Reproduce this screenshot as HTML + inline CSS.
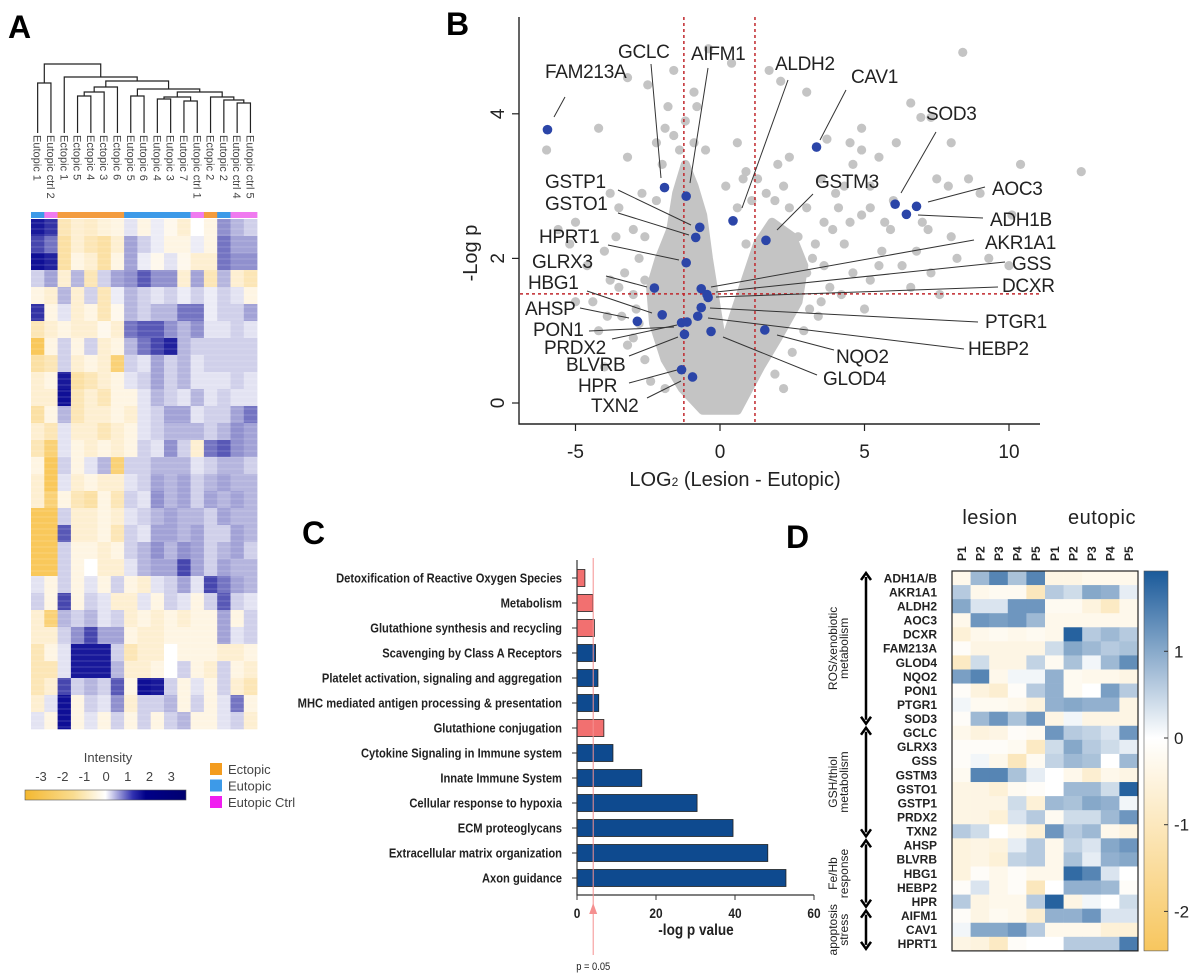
<!DOCTYPE html>
<html><head><meta charset="utf-8"><style>
body{margin:0;background:#fff;}
svg{display:block;font-family:"Liberation Sans",sans-serif;}
</style></head><body>
<svg id="fig" width="1200" height="974" viewBox="0 0 1200 974" xmlns="http://www.w3.org/2000/svg">
<rect width="1200" height="974" fill="#fff"/>
<text x="8" y="38" font-size="32" font-weight="bold">A</text>
<text x="446" y="35" font-size="32" font-weight="bold">B</text>
<text x="302" y="544" font-size="32" font-weight="bold">C</text>
<text x="786" y="548" font-size="32" font-weight="bold">D</text>
<g id="pa"></g>
<g id="pb"></g>
<g id="pc"></g>
<g id="pd"></g>
</svg>
<script>
const NS="http://www.w3.org/2000/svg";
function mk(parent,tag,attrs,txt){const e=document.createElementNS(NS,tag);for(const k in attrs)e.setAttribute(k,attrs[k]);if(txt!==undefined)e.textContent=txt;parent.appendChild(e);return e;}

/* ---------- Panel A data ---------- */
const aSamples=["Eutopic 1","Eutopic ctrl 2","Ectopic 1","Ectopic 5","Ectopic 4","Ectopic 3","Ectopic 6","Eutopic 5","Eutopic 6","Eutopic 4","Eutopic 3","Eutopic 7","Eutopic ctrl 1","Ectopic 2","Eutopic 2","Eutopic ctrl 4","Eutopic ctrl 5"];
const aGroups=["Eu","Ctrl","Ec","Ec","Ec","Ec","Ec","Eu","Eu","Eu","Eu","Eu","Ctrl","Ec","Eu","Ctrl","Ctrl"];
const aMatrix=[
[2.5,2.2,-0.8,-0.5,-0.6,-0.4,-0.3,0.3,-0.3,0.2,-0.2,-0.5,0,-0.3,1.2,0.8,0.5],
[2.0,1.5,-1,-0.5,-0.8,-1,-0.5,1,0.5,0.2,-0.3,-0.3,0.2,-0.3,1.5,1,1],
[2.6,2.4,-1,-0.3,-0.5,-1,-0.3,1,0.2,-0.2,0.3,-0.2,-0.5,-0.5,1.5,1.2,1.2],
[0.5,1,-0.5,0.8,-0.8,0.5,1,1.2,1.8,1.2,1.2,-0.5,1,-0.8,0.8,-0.5,-0.8],
[-0.3,-0.5,0.8,-0.5,0.5,-0.8,0.2,0.8,0.5,0.3,0.5,0.2,0.5,0.2,0.5,0.3,-0.3],
[2.2,-0.3,0.3,-0.5,-0.3,-0.8,-0.2,0.8,0.5,0.8,0.8,1.5,1.5,0.2,0.5,0.5,1],
[-0.8,-0.5,-0.3,-0.5,-0.5,-0.2,-0.5,1.5,1.8,1.8,1.2,0.8,1.2,0.3,0.3,0.5,0.3],
[-1.8,-0.3,0.5,-0.3,0.5,-0.5,-0.3,0.8,1.5,2,2.4,0.8,0.5,0.5,0.5,0.5,0.5],
[-1,-0.8,0.5,-0.5,-0.3,-0.5,-1.5,0.5,0.3,1,0.5,0.8,0.3,0.5,0.5,0.5,0.5],
[-0.5,-0.3,2.5,-1,-0.8,-0.5,-0.3,0.3,0.5,1,0.5,0.8,0.3,0.3,0.3,0.5,0.3],
[-0.5,-0.5,2.6,-0.8,-0.5,-0.8,-0.3,-0.3,0.3,0.8,0.5,0.3,0.8,0.3,0.5,0.3,0.3],
[-1,-0.3,0.8,-0.8,-0.5,-0.5,-0.3,-0.5,0.3,0.5,1,1,0.3,0.5,0.5,1,1.5],
[-0.5,-0.8,0.3,-0.5,-0.5,-0.8,-0.5,-0.3,0.3,0.5,0.8,0.8,0.8,0.5,0.8,1.2,1],
[-0.8,-1.5,0.3,-0.3,-0.5,-0.3,-0.5,-0.3,0.5,0.3,1.2,0.5,-0.5,1.5,1.8,1.2,1],
[-0.3,-1.8,0.5,-0.3,0.3,0.8,-1.5,0.5,0.5,0.8,0.8,0.8,0.3,0.5,0.8,0.8,0.5],
[-0.5,-1.8,0.3,-0.5,-0.3,-0.5,-0.5,0.3,0.5,1,0.8,1,0.5,0.8,1,0.8,0.8],
[-0.5,-1.5,-0.3,-0.8,-1,-0.3,-0.8,0.5,0.3,1.2,0.8,1,0.5,1,0.8,1,0.8],
[-1.8,-1.8,0.5,-0.5,-0.5,-0.3,-0.5,0.3,0.5,0.8,1,0.8,0.8,0.5,1,0.8,0.8],
[-1.8,-1.8,1.8,-0.5,-0.5,-0.3,-0.8,0.5,0.3,1,1,0.8,1,0.5,0.5,1,0.8],
[-1.8,-1.8,0.5,-0.3,-0.3,-0.5,-0.3,0.5,0.8,1.2,0.8,1.2,1,0.5,0.8,1,0.5],
[-1.8,-1.8,0.5,-0.3,0,-0.5,-0.5,0.3,0.8,1,1,2,1,0.5,1,0.8,0.8],
[0.3,-0.3,0.5,-0.3,0.3,-0.3,0.5,-0.3,-0.5,0.3,0.5,1,0.3,2,1.5,1,0.8],
[0.5,-0.3,2,-0.3,0.5,0.3,-0.5,-0.5,0.3,-0.3,0.5,0.3,-0.3,0.5,1.8,0.5,0.3],
[-0.5,-1.5,0.8,0.5,0.8,0.3,0.5,-0.5,-0.3,-0.5,-0.3,-0.5,-0.3,-0.3,1,-0.3,0.5],
[-0.5,-0.5,0.5,1.2,2,1,1,-0.3,-0.5,-0.5,-0.3,-0.3,-0.3,-0.3,1,0.3,0.5],
[-0.8,-0.3,0.3,2.5,2.5,2.5,0.5,-0.8,-0.5,-0.5,0,-0.3,-0.3,-0.3,-0.5,-0.5,-0.3],
[-0.8,-0.8,0.3,2.5,2.5,2.5,0.8,-0.5,-0.5,-0.3,0,0.5,-0.3,-0.5,0.5,-0.3,-0.5],
[-0.8,-0.5,2,0.5,0.8,0.5,1.8,-0.3,2.8,2.5,0.5,-0.3,0.3,-0.3,0.5,-0.5,-0.8],
[-0.5,0.3,2.8,-0.3,0.5,0.3,1.2,-0.5,0.5,0.5,0.8,-0.3,0.5,-0.3,0.3,1.5,-0.3],
[0.3,-0.3,2.8,-0.3,0.3,-0.3,0.5,-0.3,0.5,-0.3,0.5,0.8,-0.3,-0.3,0.3,0.5,-0.5]];
const aLegendTicks=["-3","-2","-1","0","1","2","3"];
const aLegendNames=["Ectopic","Eutopic","Eutopic Ctrl"];

/* ---------- Panel B data ---------- */
const bHighlightNames=["FAM213A","GCLC","AIFM1","ALDH2","CAV1","SOD3","AOC3","ADH1B","GSTP1","GSTO1","GSTM3","HPRT1","GLRX3","AKR1A1","GSS","DCXR","PTGR1","HBG1","HEBP2","AHSP","PON1","PON1b","PRDX2","GLOD4","NQO2","BLVRB","TXN2"];
const bHighlightX=[-5.97,-1.92,-1.17,0.45,3.34,6.06,6.80,6.45,-0.70,-0.84,1.59,-1.17,-2.27,-0.65,-0.41,-0.45,-0.65,-2.0,-0.77,-2.86,-1.33,-1.14,-1.23,-0.31,1.55,-1.33,-0.95];
const bHighlightY=[3.78,2.98,2.86,2.52,3.54,2.75,2.72,2.61,2.43,2.29,2.25,1.94,1.59,1.58,1.46,1.50,1.32,1.22,1.20,1.13,1.11,1.12,0.95,0.99,1.01,0.46,0.36];
const bGrayX=[8.4,2.1,6.6,6.95,7.3,4.9,3.7,4.5,4.9,6.1,8.0,2.0,4.6,5.5,4.3,5.2,7.5,8.6,10.4,12.5,5.2,4.1,3.0,2.4,3.6,4.9,5.7,7.0,8.0,2.7,3.3,4.3,5.6,7.2,8.2,10.1,9.3,3.6,4.6,5.2,6.3,7.3,10.0,4.2,3.0,2.7,2.4,6.8,3.1,4.0,6.0,9.0,3.0,1.7,1.3,2.4,7.9,5.9,3.5,-6.0,-4.2,-3.2,-2.5,-1.6,-1.8,-2.2,-3.2,-2.0,-1.6,-3.5,-5.0,-5.2,-4.0,-3.8,-4.4,-4.2,-3.0,-2.8,-5.0,-3.4,-3.0,-4.0,-0.4,0.6,0.4,-0.8,-2.7,-3.6,-5.6,-2.6,-2.9,-3.3,1.9,3.5,2.2,-1.4,-0.9,0.8,
-3.5,-3.0,-2.8,-3.2,-2.6,-2.2,-2.6,-3.8,-1.9,-1.2,-0.9,-0.5,0.2,0.9,1.1,1.6,2.2,3.2,3.8,2.9,3.4,2.5,4.5,5.5,6.6,7.6,5.0,3.9,0.6,0.9,-2.4,-1.9,1.9,2.2,-4.6,-3.9];
const bGrayY=[4.85,4.45,4.15,3.95,3.95,3.8,3.65,3.6,3.5,3.6,3.6,3.3,3.3,3.4,3.0,3.0,3.1,3.1,3.3,3.2,2.7,2.7,2.7,2.7,2.5,2.6,2.5,2.5,2.3,2.3,2.2,2.2,2.1,2.4,2.0,2.6,2.0,1.9,1.8,1.7,1.9,1.8,1.9,1.5,1.8,2.0,1.9,2.1,1.3,2.9,2.8,2.9,4.3,4.6,3.1,3.4,3.0,2.4,3.1,3.5,3.8,4.5,4.4,4.6,4.1,3.6,3.4,3.3,3.7,2.7,2.5,2.2,2.1,1.7,1.4,1.0,2.4,2.0,1.4,1.2,0.9,0.5,4.9,3.6,4.7,4.1,2.9,2.3,2.4,1.7,1.3,1.8,2.8,1.4,1.5,3.5,3.6,3.1,
1.6,1.5,1.1,0.8,0.6,2.8,2.3,2.9,3.8,3.9,4.3,3.5,3.0,3.2,2.8,2.9,3.0,2.0,1.6,1.0,1.2,0.7,2.5,1.9,1.6,1.5,1.3,2.4,2.7,2.2,0.3,0.2,0.4,0.2,1.9,1.2];
const bCloudX=[0.6,-0.6,-1.3,-1.9,-2.3,-2.4,-2.1,-1.7,-1.5,-1.2,-0.9,-0.6,-0.4,-0.2,0.0,0.05,0.25,0.3,0.8,1.3,1.8,2.5,2.9,2.7,2.0,1.4];
const bCloudY=[-0.1,-0.1,0.2,0.6,1.1,1.6,2.0,2.4,2.9,3.3,3.0,2.6,2.0,1.5,1.0,0.4,0.4,1.0,1.6,2.2,2.5,2.3,1.9,1.4,0.9,0.5];
const bXTicks=[-5,0,5,10];
const bYTicks=[0,2,4];
const bThreshX=[-1.25,1.21];
const bThreshY=1.51;

/* ---------- Panel C data ---------- */
const cPathways=["Detoxification of Reactive Oxygen Species","Metabolism","Glutathione synthesis and recycling","Scavenging by Class A Receptors","Platelet activation, signaling and aggregation","MHC mediated antigen processing & presentation","Glutathione conjugation","Cytokine Signaling in Immune system","Innate Immune System","Cellular response to hypoxia","ECM proteoglycans","Extracellular matrix organization","Axon guidance"];
const cValues=[2.0,4.0,4.4,4.7,5.3,5.5,6.8,9.1,16.4,30.4,39.5,48.3,52.9];
const cHighlight=[1,1,1,0,0,0,1,0,0,0,0,0,0];
const cTicks=[0,20,40,60];
const cThreshold=4.1;

/* ---------- Panel D data ---------- */
const dGenes=["ADH1A/B","AKR1A1","ALDH2","AOC3","DCXR","FAM213A","GLOD4","NQO2","PON1","PTGR1","SOD3","GCLC","GLRX3","GSS","GSTM3","GSTO1","GSTP1","PRDX2","TXN2","AHSP","BLVRB","HBG1","HEBP2","HPR","AIFM1","CAV1","HPRT1"];
const dCols=["P1","P2","P3","P4","P5","P1","P2","P3","P4","P5"];
const dMatrix=[
[-0.3,0.8,1.4,0.7,1.4,-0.4,-0.4,-0.3,-0.3,-0.3],
[0.6,-0.3,-0.2,-0.2,-1.0,0.6,0.4,1.0,0.9,0.2],
[1.0,0.3,0.3,1.2,1.2,-0.2,-0.2,-0.5,-0.9,-0.3],
[-0.3,1.2,1.1,1.2,0.8,-0.3,-0.3,-0.3,-0.3,-0.3],
[-0.6,-0.3,-0.2,-0.3,-0.2,-0.3,1.8,0.6,0.8,0.6],
[-0.1,-0.4,-0.4,-0.4,-0.4,0.4,1.0,0.8,0.6,0.7],
[-0.9,0.4,-0.4,-0.4,0.5,-0.2,0.7,0.1,0.8,1.3],
[1.1,1.4,-0.3,0.1,0.1,0.9,-0.2,-0.3,-0.3,-0.4],
[-0.1,-0.5,-0.7,-0.1,0.6,0.9,-0.2,0.0,1.1,0.6],
[0.1,-0.2,-0.2,-0.3,-0.5,0.9,1.0,0.9,0.9,-0.4],
[-0.1,0.8,1.2,0.7,1.2,-0.4,0.1,-0.4,-0.4,-0.4],
[-0.3,-0.5,-0.4,-0.1,-0.2,1.2,0.6,0.5,0.3,1.2],
[-0.1,-0.1,-0.1,-0.2,-0.9,0.4,1.0,0.6,0.4,0.2],
[-0.1,0.1,-0.3,-1.0,-0.2,0.5,0.8,0.7,0.0,0.8],
[-0.2,1.4,1.4,0.7,0.2,0.0,-0.3,-0.7,-0.3,-0.4],
[-0.4,-0.4,-0.6,-0.2,-0.1,0.0,0.8,0.8,0.4,1.8],
[-0.4,-0.4,-0.4,0.4,-0.6,0.8,0.7,1.0,0.9,0.1],
[-0.4,-0.4,-0.6,0.3,0.6,-0.2,0.4,0.4,0.8,1.2],
[0.6,0.4,0.0,-0.3,-0.6,1.2,0.6,0.8,-0.3,-0.5],
[-0.5,-0.4,-0.5,0.2,0.6,-0.3,0.5,0.3,1.0,1.2],
[-0.5,-0.4,-0.6,0.5,0.6,-0.3,0.7,0.2,0.9,1.0],
[-0.5,-0.1,-0.3,-0.1,-0.3,-0.3,1.7,1.4,0.3,0.0],
[-0.1,0.3,-0.3,-0.1,-1.0,0.0,0.9,0.9,0.8,-0.1],
[0.6,-0.4,-0.3,-0.3,0.6,1.8,-0.4,0.1,0.0,0.4],
[-0.1,-0.4,-0.2,-0.3,-0.7,0.9,0.9,1.2,0.3,0.3],
[0.1,1.0,1.0,1.2,0.6,-0.3,-0.3,-0.3,-0.6,-0.6],
[-0.4,-0.5,-0.9,-0.1,0.0,0.0,0.6,0.6,0.6,1.5]];
const dGroupNames=[["ROS/xenobiotic","metabolism"],["GSH/thiol","metabolism"],["Fe/Hb","response"],["apoptosis","stress"]];
const dGroupStart=[0,11,19,24];
const dGroupEnd=[11,19,24,27];
const dCbTicks=[1,0,-1,-2];

/* ================= Panel A render ================= */
(function(){
const g=document.getElementById('pa');
const x0=31,cw=13.3,y0=219,rh=17;
function colA(v){let r,gg,b;if(v>=0){const t=Math.min(v/2.6,1);r=255+(15-255)*t;gg=255+(15-255)*t;b=255+(150-255)*t;}else{const t=Math.min(-v/2.2,1);r=255+(248-255)*t;gg=255+(188-255)*t;b=255+(55-255)*t;}return `rgb(${r|0},${gg|0},${b|0})`;}
const gc={Eu:"#3d9ae8",Ctrl:"#f07af0",Ec:"#f39c3f"};
aGroups.forEach((gr,i)=>{const r=mk(g,'rect',{x:x0+i*cw,y:212,width:cw+0.3,height:6,fill:gc[gr]});

});
aMatrix.forEach((row,ri)=>row.forEach((v,ci)=>{const r=mk(g,'rect',{x:x0+ci*cw,y:y0+ri*rh,width:cw+0.3,height:rh+0.3,fill:colA(v)});

}));
for(let y=y0+4;y<y0+rh*30;y+=6){const l=mk(g,'line',{x1:x0,x2:x0+17*cw,y1:y,y2:y,stroke:'#fff',"stroke-width":0.7,opacity:0.25});

}
aSamples.forEach((s,i)=>{const cx=x0+(i+0.5)*cw;const t=mk(g,'text',{x:0,y:0,transform:`translate(${cx-4},135) rotate(90)`,"font-size":11,fill:'#444'},s);

});
const L=i=>x0+(i+0.5)*cw;
const segs=[[L(0),L(1),83,133,133],[L(3),L(4),96,133,133],[(L(3)+L(4))/2,L(5),92,96,133],[((L(3)+L(4))/2+L(5))/2,L(6),87,92,133],
[L(7),L(8),96,133,133],[L(9),L(10),99,133,133],[L(11),L(12),101,133,133],[(L(9)+L(10))/2,(L(11)+L(12))/2,97,99,101],
[L(15),L(16),103,133,133],[L(14),(L(15)+L(16))/2,100,133,103],[L(13),(L(14)+(L(15)+L(16))/2)/2,97,133,100]];
const nA=((L(9)+L(10))/2+(L(11)+L(12))/2)/2, nB=(L(13)+(L(14)+(L(15)+L(16))/2)/2)/2;
segs.push([nA,nB,92,97,97]);const nC=(nA+nB)/2;
const nD=(L(7)+L(8))/2;segs.push([nD,nC,89,96,92]);const nE=(nD+nC)/2;
const nF=(((L(3)+L(4))/2+L(5))/2+L(6))/2;segs.push([nF,nE,81,87,89]);const nG=(nF+nE)/2;
segs.push([L(2),nG,77,133,81]);const nH=(L(2)+nG)/2;
segs.push([(L(0)+L(1))/2,nH,64,83,77]);
const dg=mk(g,'g',{stroke:'#222',"stroke-width":1.2,fill:'none'});
segs.forEach(s=>{const p=mk(dg,'path',{d:`M${s[0]},${s[3]}V${s[2]}H${s[1]}V${s[4]}`});

});
const it=mk(g,'text',{x:108,y:762,"font-size":13,fill:'#444',"text-anchor":"middle"},"Intensity");

const defs=mk(g,'defs',{});const lg=mk(defs,'linearGradient',{id:'ga'});
[["0","#f4b830"],["0.3","#f9dc90"],["0.5","#ffffff"],["0.67","#3030b0"],["0.75","#000088"],["1","#000070"]].forEach(s=>mk(lg,'stop',{offset:s[0],"stop-color":s[1]}));
const cb=mk(g,'rect',{x:25,y:790,width:161,height:10,fill:'url(#ga)',stroke:'#555',"stroke-width":0.6});

aLegendTicks.forEach((t,i)=>{const e=mk(g,'text',{x:41+i*21.7,y:781,"font-size":13,fill:'#444',"text-anchor":"middle"},t);
});
const lc=["#f39c1f","#3d9ae8","#f01ef0"];
aLegendNames.forEach((n,i)=>{const r=mk(g,'rect',{x:210,y:763+i*16.5,width:12,height:12,fill:lc[i]});

const t=mk(g,'text',{x:228,y:774+i*16.5,"font-size":13,fill:'#444'},n);
});
})();

/* ================= Panel B render ================= */
(function(){
const g=document.getElementById('pb');
const xs=v=>720+v*28.9, ys=v=>403-v*72.3;
const poly=bCloudX.map((x,i)=>xs(x)+','+ys(bCloudY[i])).join(' ');
const pl=mk(g,'polygon',{points:poly,fill:'#c4c4c4',stroke:'#c4c4c4',"stroke-width":9,"stroke-linejoin":"round"});

bGrayX.forEach((x,i)=>{const c=mk(g,'circle',{cx:xs(x),cy:ys(bGrayY[i]),r:4.6,fill:'#c4c4c4'});
});
bThreshX.forEach(v=>{const l=mk(g,'line',{x1:xs(v),x2:xs(v),y1:17,y2:424,stroke:'#c0282d',"stroke-width":1.5,"stroke-dasharray":"3,3"});
});
const hl=mk(g,'line',{x1:520,x2:1040,y1:ys(bThreshY),y2:ys(bThreshY),stroke:'#c0282d',"stroke-width":1.5,"stroke-dasharray":"3,3"});

const labs=[["FAM213A",545,78,565,97,554,117],["GCLC",618,58,651,64,661,178],["AIFM1",691,60,708,68,690,183],["ALDH2",775,70,788,80,742,208],["CAV1",851,83,846,90,820,140],["SOD3",926,120,936,132,901,193],["AOC3",992,195,985,187,928,202],["ADH1B",990,226,983,218,918,215],["AKR1A1",985,249,974,240,711,287],["GSS",1012,270,1005,262,716,292],["DCXR",1002,292,998,287,716,297],["PTGR1",985,328,978,322,710,308],["HEBP2",968,355,964,349,708,318],["NQO2",836,363,834,350,777,335],["GLOD4",823,385,817,375,723,337],["GSTM3",815,188,813,194,777,230],["GSTP1",545,188,618,190,691,225],["GSTO1",545,210,618,213,689,235],["HPRT1",539,243,608,245,679,260],["GLRX3",532,268,606,276,647,287],["HBG1",528,289,587,291,652,313],["AHSP",525,315,580,308,629,318],["PON1",533,336,589,331,674,327],["PRDX2",544,354,612,339,677,325],["BLVRB",566,371,629,356,678,337],["HPR",578,392,629,383,677,370],["TXN2",591,412,647,398,681,381]];
labs.forEach(l=>{const ln=mk(g,'line',{x1:l[3],y1:l[4],x2:l[5],y2:l[6],stroke:'#333',"stroke-width":1});

const t=mk(g,'text',{x:l[1],y:l[2],"font-size":19,fill:'#222',"letter-spacing":"-0.3"},l[0]);
});
bHighlightX.forEach((x,i)=>{const c=mk(g,'circle',{cx:xs(x),cy:ys(bHighlightY[i]),r:4.8,fill:'#2b45a8'});
});
const ax=mk(g,'path',{d:'M519,17V424H1040',stroke:'#222',"stroke-width":1.4,fill:'none'});

bXTicks.forEach(v=>{mk(g,'line',{x1:xs(v),x2:xs(v),y1:424,y2:431,stroke:'#222',"stroke-width":1.2});
const t=mk(g,'text',{x:xs(v),y:458,"font-size":19,"text-anchor":"middle",fill:'#222'},String(v));
});
bYTicks.forEach(v=>{mk(g,'line',{x1:512,x2:519,y1:ys(v),y2:ys(v),stroke:'#222',"stroke-width":1.2});
const t=mk(g,'text',{x:0,y:0,transform:`translate(504,${ys(v)}) rotate(-90)`,"font-size":19,"text-anchor":"middle",fill:'#222'},String(v));
});
const yt=mk(g,'text',{x:0,y:0,transform:'translate(477,253) rotate(-90)',"font-size":20,"text-anchor":"middle",fill:'#222'},"-Log p");

const xt=mk(g,'text',{x:735,y:486,"font-size":20,"text-anchor":"middle",fill:'#222'});

xt.innerHTML='LOG<tspan font-size="12">2</tspan> (Lesion - Eutopic)';
})();

/* ================= Panel C render ================= */
(function(){
const g=document.getElementById('pc');
const xs=v=>577+v*3.95, yc=i=>578+i*25;
cPathways.forEach((p,i)=>{const t=mk(g,'text',{x:0,y:0,transform:`translate(562,${yc(i)+4.5}) scale(0.86,1)`,"font-size":13,"font-weight":"bold","text-anchor":"end",fill:'#222'},p);

mk(g,'line',{x1:572,x2:577,y1:yc(i),y2:yc(i),stroke:'#333'});
const r=mk(g,'rect',{x:xs(0),y:yc(i)-8.5,width:xs(cValues[i])-xs(0),height:17,fill:cHighlight[i]?'#f27070':'#0e4a8f',stroke:'#222',"stroke-width":0.8});
});
const ax=mk(g,'path',{d:`M577,560V895H${xs(60)}`,stroke:'#333',"stroke-width":1.2,fill:'none'});

cTicks.forEach(v=>{mk(g,'line',{x1:xs(v),x2:xs(v),y1:895,y2:900,stroke:'#333'});
const t=mk(g,'text',{x:0,y:0,transform:`translate(${xs(v)},918) scale(0.85,1)`,"font-size":14,"font-weight":"bold","text-anchor":"middle",fill:'#222'},String(v));
});
const xt=mk(g,'text',{x:0,y:0,transform:'translate(696,935) scale(0.85,1)',"font-size":16,"font-weight":"bold","text-anchor":"middle",fill:'#222'},"-log p value");

const th=mk(g,'line',{x1:xs(cThreshold),x2:xs(cThreshold),y1:558,y2:955,stroke:'#f59090',"stroke-width":1});

const ar=mk(g,'polygon',{points:`${xs(cThreshold)},903 ${xs(cThreshold)-4},914 ${xs(cThreshold)+4},914`,fill:'#f59090'});

const pt=mk(g,'text',{x:0,y:0,transform:`translate(${xs(cThreshold)},970) scale(0.85,1)`,"font-size":11,"text-anchor":"middle",fill:'#222'},"p = 0.05");

})();

/* ================= Panel D render ================= */
(function(){
const g=document.getElementById('pd');
const x0=952,cw=18.6,y0=571,rh=14.07;
function colD(v){let r,gg,b;if(v>=0){const t=Math.min(v/1.9,1);r=255+(26-255)*t;gg=255+(90-255)*t;b=255+(154-255)*t;}else{const t=Math.min(-v/2.46,1);r=255+(247-255)*t;gg=255+(198-255)*t;b=255+(94-255)*t;}return `rgb(${r|0},${gg|0},${b|0})`;}
dMatrix.forEach((row,ri)=>row.forEach((v,ci)=>{const r=mk(g,'rect',{x:x0+ci*cw,y:y0+ri*rh,width:cw+0.3,height:rh+0.3,fill:colD(v)});
}));
mk(g,'rect',{x:x0,y:y0,width:cw*10,height:rh*27,fill:'none',stroke:'#222',"stroke-width":1.2});
dGenes.forEach((n,i)=>{const t=mk(g,'text',{x:937,y:y0+(i+0.5)*rh+4.3,"font-size":12,"font-weight":"bold","text-anchor":"end",fill:'#222'},n);
});
dCols.forEach((n,i)=>{const t=mk(g,'text',{x:0,y:0,transform:`translate(${x0+(i+0.5)*cw+4.5},561) rotate(-90)`,"font-size":12,"font-weight":"bold",fill:'#222'},n);
});
const l1=mk(g,'text',{x:990,y:524,"font-size":20,"text-anchor":"middle",fill:'#222',"letter-spacing":"0.5"},"lesion");

const l2=mk(g,'text',{x:1102,y:524,"font-size":20,"text-anchor":"middle",fill:'#222',"letter-spacing":"0.5"},"eutopic");

dGroupNames.forEach((nm,i)=>{const ya=y0+dGroupStart[i]*rh+2, yb=y0+dGroupEnd[i]*rh-2;
const a=mk(g,'path',{d:`M866,${ya+4}V${yb-4}M861,${ya+7}L866,${ya}L871,${ya+7}M861,${yb-7}L866,${yb}L871,${yb-7}`,stroke:'#000',"stroke-width":2.5,fill:'none'});

const cy=(ya+yb)/2;
nm.forEach((s,j)=>{const t=mk(g,'text',{x:0,y:0,transform:`translate(${837+j*11},${cy}) rotate(-90)`,"font-size":12,"text-anchor":"middle",fill:'#222'},s);
});});
const defs=mk(g,'defs',{});const lg=mk(defs,'linearGradient',{id:'gd',x1:0,y1:0,x2:0,y2:1});
[["0","#1a5a9a"],["0.44","#ffffff"],["1","#f7c65e"]].forEach(s=>mk(lg,'stop',{offset:s[0],"stop-color":s[1]}));
const cb=mk(g,'rect',{x:1144,y:y0,width:24,height:rh*27,fill:'url(#gd)',stroke:'#555',"stroke-width":0.6});

dCbTicks.forEach(v=>{const y=738-v*86.7;mk(g,'line',{x1:1164,x2:1168,y1:y,y2:y,stroke:'#333'});
const t=mk(g,'text',{x:1174,y:y+6,"font-size":17,fill:'#222'},String(v));
});
})();
</script>
</body></html>
